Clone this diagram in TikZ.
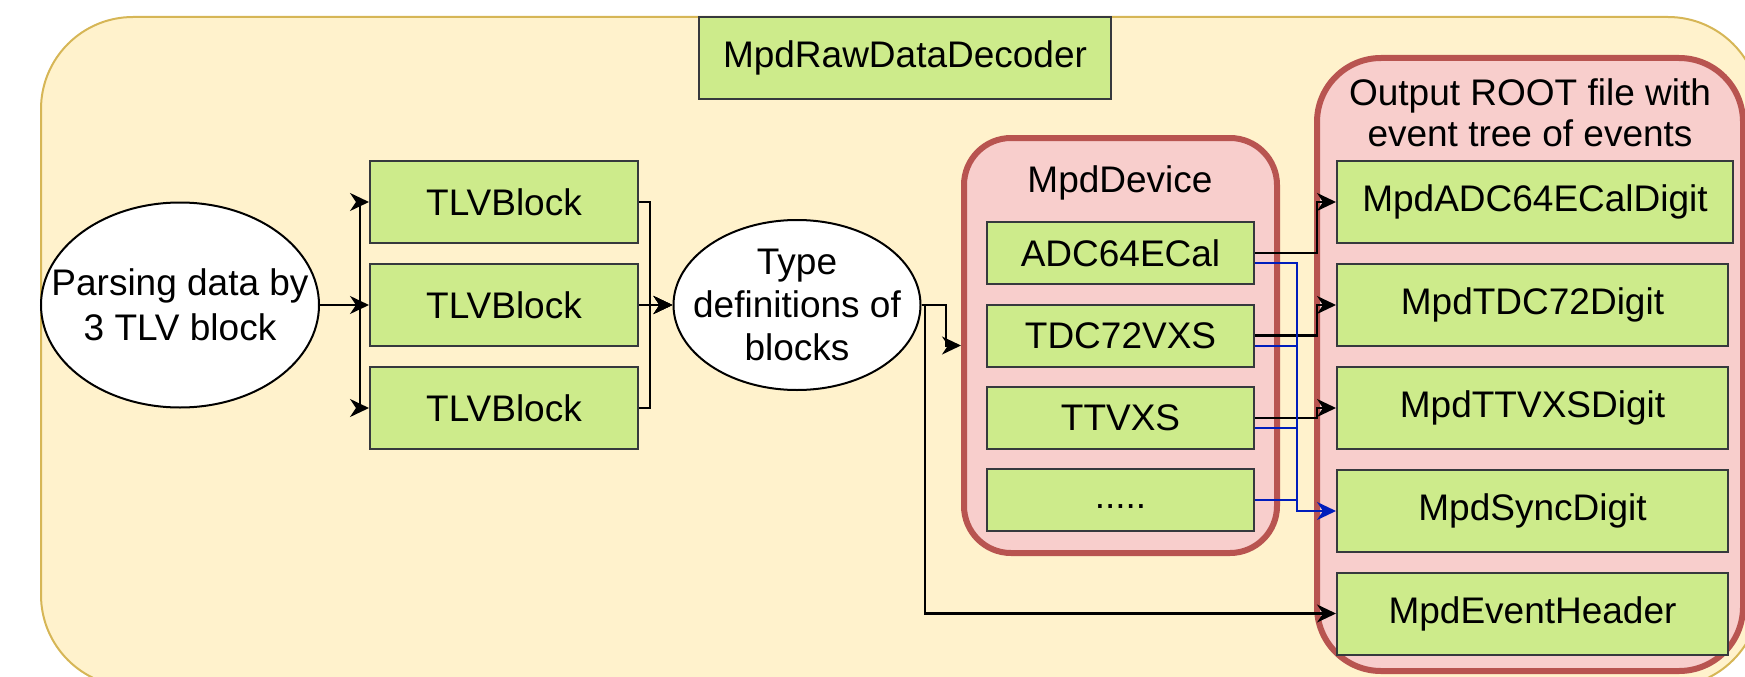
\documentclass[tikz,border=0pt]{standalone}
\usepackage{fontspec}
\setmainfont{Liberation Sans}
\usetikzlibrary{shapes.geometric,arrows.meta}
\definecolor{yfill}{HTML}{FFF2CC}
\definecolor{ydraw}{HTML}{D6B656}
\definecolor{gfill}{HTML}{CDEB8B}
\definecolor{gdraw}{HTML}{36393D}
\definecolor{rfill}{HTML}{F8CECC}
\definecolor{rdraw}{HTML}{B85450}
\definecolor{bline}{HTML}{001DBC}
\begin{document}
\begin{tikzpicture}[x=1pt,y=-1pt, font=\fontsize{37}{42}\selectfont,
 gbox/.style={draw=gdraw, fill=gfill, line width=2pt, inner sep=0pt, minimum height=82pt},
 ell/.style={ellipse, draw=black, fill=white, line width=2pt, inner sep=0pt},
 cont/.style={draw=rdraw, fill=rfill, line width=6pt, inner sep=0pt},
 conn/.style={line width=2.2pt, -{Stealth[length=19pt,width=18pt,inset=6pt]}},
 bconn/.style={color=bline, line width=2pt, -{Stealth[length=19pt,width=18pt,inset=6pt]}},
 bline2/.style={color=bline, line width=2pt},
 lbl/.style={align=center, inner sep=0pt}]
\useasboundingbox (0,0) rectangle (1745,677);
\clip (0,0) rectangle (1745,677);
% outer frame
\draw[draw=ydraw, fill=yfill, line width=2pt, rounded corners=92pt] (41,17) rectangle (1760,687);
% decoder title
\node[gbox, minimum width=412pt] (dec) at (905,58) {MpdRawDataDecoder};
% parse ellipse
\node[ell, minimum width=278pt, minimum height=205pt] (parse) at (180,305) {};
\node[lbl, font=\fontsize{37}{45}\selectfont] (parselbl) at (parse) {Parsing data by\\3 TLV block};
% TLV blocks
\node[gbox, minimum width=268pt] (t1) at (504,202) {TLVBlock};
\node[gbox, minimum width=268pt] (t2) at (504,305) {TLVBlock};
\node[gbox, minimum width=268pt] (t3) at (504,408) {TLVBlock};
% type ellipse
\node[ell, minimum width=247pt, minimum height=170pt] (type) at (797,305) {};
\node[lbl, font=\fontsize{37}{43}\selectfont] (typelbl) at (type) {Type\\definitions of\\blocks};
% device container
\node[cont, rounded corners=47pt, minimum width=313pt, minimum height=415pt] (dev) at (1120.5,345.5) {};
\node[lbl] (devlbl) at (1120,183) {MpdDevice};
\node[gbox, minimum width=267pt, minimum height=62pt] (adc) at (1120.5,253) {ADC64ECal};
\node[gbox, minimum width=267pt, minimum height=62pt] (tdc) at (1120.5,335.5) {TDC72VXS};
\node[gbox, minimum width=267pt, minimum height=62pt] (ttv) at (1120.5,418) {TTVXS};
\node[gbox, minimum width=267pt, minimum height=62pt] (dots) at (1120.5,500) {\strut.....};
% output container
\node[cont, rounded corners=64pt, minimum width=426pt, minimum height=613pt] (out) at (1530,364.5) {};
\node[lbl, font=\fontsize{37}{41}\selectfont] (outlbl) at (1530,113) {Output ROOT file with\\event tree of events};
\node[gbox, minimum width=396pt] (d1) at (1535,202) {MpdADC64ECalDigit};
\node[gbox, minimum width=391pt] (d2) at (1532.5,305) {MpdTDC72Digit};
\node[gbox, minimum width=391pt] (d3) at (1532.5,408) {MpdTTVXSDigit};
\node[gbox, minimum width=391pt] (d4) at (1532.5,511) {MpdSyncDigit};
\node[gbox, minimum width=391pt] (d5) at (1532.5,613.5) {MpdEventHeader};
% connectors: parse -> TLV
\coordinate (bl) at (360,305);
\draw[conn] (parse.east) -- (t2.west);
\draw[conn] (parse.east) -- (bl) |- (t1.west);
\draw[conn] (parse.east) -- (bl) |- (t3.west);
% TLV -> type
\coordinate (br) at (650,305);
\draw[conn] (t1.east) -| (br) -- (type.west);
\draw[conn] (t2.east) -- (type.west);
\draw[conn] (t3.east) -| (br) -- (type.west);
% type -> device, header
\coordinate (ty1) at (946,305);
\coordinate (ty2) at (925,305);
\draw[conn] (type.east) -- (ty1) |- (dev.west);
\draw[conn] (type.east) -- (ty2) |- (d5.west);
% device -> digits
\draw[conn] (adc.east) -- ++(62,0) |- (d1.west);
\draw[conn] (tdc.east) -- ++(62,0) |- (d2.west);
\draw[conn] (ttv.east) -- ++(62,0) |- (d3.west);
% blue sync lines
\draw[bconn] ([yshift=-10pt]adc.east) -- ++(42,0) |- (d4.west);
\draw[bline2] ([yshift=-10pt]tdc.east) -- ++(42,0);
\draw[bline2] ([yshift=-10pt]ttv.east) -- ++(42,0);
\draw[bline2] (dots.east) -- ++(42,0);
\end{tikzpicture}
\end{document}
